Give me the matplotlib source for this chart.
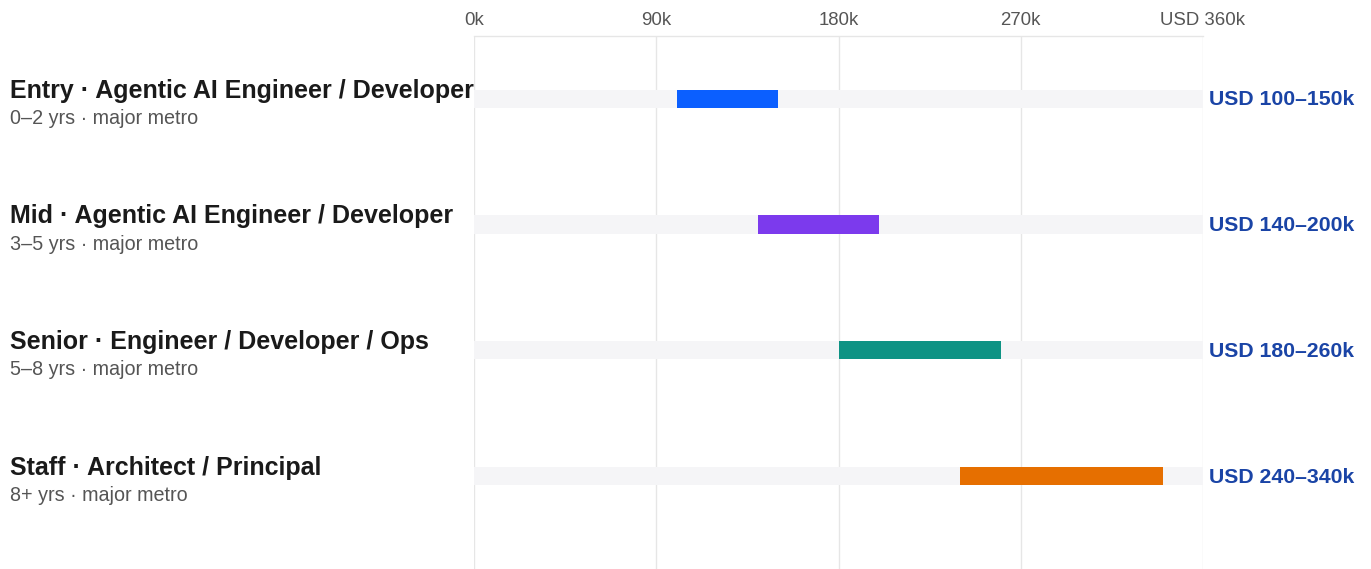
import matplotlib
matplotlib.use('Agg')
import matplotlib.pyplot as plt
import matplotlib.transforms as mtransforms

plt.rcParams['font.family'] = ['Liberation Sans', 'DejaVu Sans']

# data
titles = ['Entry · Agentic AI Engineer / Developer',
          'Mid · Agentic AI Engineer / Developer',
          'Senior · Engineer / Developer / Ops',
          'Staff · Architect / Principal']
subtitles = ['0–2 yrs · major metro', '3–5 yrs · major metro',
             '5–8 yrs · major metro', '8+ yrs · major metro']
low_k = [100, 140, 180, 240]
high_k = [150, 200, 260, 340]
bar_colors = ['#0b5fff', '#7c3aed', '#0e9384', '#e66f00']
tick_vals = [0, 90, 180, 270, 360]
tick_labels = ['0k', '90k', '180k', '270k', 'USD 360k']
x_max = 360

fig = plt.figure(figsize=(13.71, 5.69), dpi=100)
ax = fig.add_axes([474 / 1371, 0, (1203 - 474) / 1371, 1 - 36 / 569])

n = len(titles)
ys = list(range(n))
bh = 0.145

# background tracks
ax.barh(ys, [x_max] * n, left=0, height=bh, color='#f5f5f7', zorder=1)
# salary ranges
ax.barh(ys, [h - l for l, h in zip(low_k, high_k)], left=low_k, height=bh,
        color=bar_colors, zorder=2)

ax.set_xlim(0, x_max)
ax.set_ylim(n - 0.26, -0.5)

ax.set_xticks(tick_vals)
ax.set_xticklabels(tick_labels)
ax.xaxis.tick_top()
ax.tick_params(axis='x', length=0, pad=5, labelsize=13.4, labelcolor='#555555')
ax.set_yticks([])
ax.grid(axis='x', color='#e6e6e6', linewidth=1, zorder=0)
ax.set_axisbelow(True)
for s in ['left', 'right', 'bottom']:
    ax.spines[s].set_visible(False)
ax.spines['top'].set_color('#e6e6e6')
ax.spines['top'].set_linewidth(1)

# left labels
trans = mtransforms.blended_transform_factory(fig.transFigure, ax.transData)
for y, t, st in zip(ys, titles, subtitles):
    ax.annotate(t, xy=(10 / 1371, y), xycoords=trans, xytext=(0, 6),
                textcoords='offset points', ha='left', va='center',
                fontsize=18, fontweight='bold', color='#1a1a1a',
                annotation_clip=False)
    ax.annotate(st, xy=(10 / 1371, y), xycoords=trans, xytext=(0, -14),
                textcoords='offset points', ha='left', va='center',
                fontsize=14.2, color='#555555', annotation_clip=False)

# right labels
for y, l, h in zip(ys, low_k, high_k):
    ax.annotate(f'USD {l}–{h}k', xy=(1.008, y), xycoords=ax.get_yaxis_transform(),
                xytext=(0, -0.8), textcoords='offset points',
                ha='left', va='center', fontsize=15.3, fontweight='bold',
                color='#1a44a6', annotation_clip=False)

fig.savefig('out.png', dpi=100)
